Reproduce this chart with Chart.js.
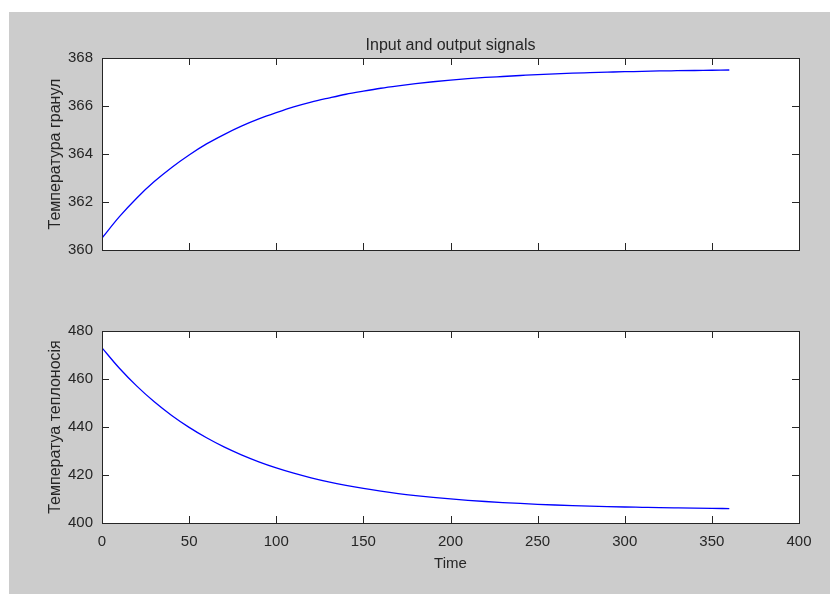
<!DOCTYPE html>
<html>
<head>
<meta charset="utf-8">
<script src="https://cdn.jsdelivr.net/npm/chart.js@4.4.1/dist/chart.umd.min.js"></script>
<style>
    html, body { margin: 0; padding: 0; background: #ffffff; }
    #page { position: relative; width: 830px; height: 594px; overflow: hidden; }
    #figure { position: absolute; left: 9px; top: 12px; width: 821px; height: 582px; background: #cccccc; }
    canvas { position: absolute; left: 0; }
    #topWrap { position: absolute; left: 0; top: 0; width: 830px; height: 290px; }
    #bottomWrap { position: absolute; left: 0; top: 290px; width: 830px; height: 304px; }
</style>
</head>
<body>
<div id="page">
    <div id="figure"></div>
    <div id="topWrap"><canvas id="topChart"></canvas></div>
    <div id="bottomWrap"><canvas id="bottomChart"></canvas></div>
</div>
<script>
// Data
const timeSteps = [0, 10, 20, 30, 40, 50, 60, 70, 80, 90, 100, 110, 120, 130, 140, 150, 160, 170, 180,
    190, 200, 210, 220, 230, 240, 250, 260, 270, 280, 290, 300, 310, 320, 330, 340, 350, 360];

// Температура гранул
const granuleTemp = [360.50, 361.39, 362.17, 362.85, 363.44, 363.96, 364.42, 364.81, 365.16, 365.46,
    365.72, 365.96, 366.16, 366.33, 366.49, 366.62, 366.74, 366.84, 366.93, 367.01,
    367.08, 367.14, 367.19, 367.23, 367.27, 367.31, 367.34, 367.37, 367.39, 367.41,
    367.43, 367.44, 367.46, 367.47, 367.48, 367.49, 367.50];

// Температура теплоносія
const carrierTemp = [473.00, 464.47, 457.02, 450.50, 444.81, 439.84, 435.50, 431.71, 428.40, 425.51,
    422.98, 420.77, 418.84, 417.15, 415.68, 414.39, 413.27, 412.28, 411.43, 410.68,
    410.02, 409.46, 408.96, 408.52, 408.14, 407.80, 407.51, 407.26, 407.03, 406.84,
    406.67, 406.53, 406.39, 406.28, 406.18, 406.09, 406.02];

const xTicks = [0, 50, 100, 150, 200, 250, 300, 350, 400];
const topYTicks = [360, 362, 364, 366, 368];
const bottomYTicks = [400, 420, 440, 460, 480];

const FONT = "'Liberation Sans', Arial, sans-serif";
const TEXT_COLOR = '#262626';
const TICK_LEN = 7;

Chart.defaults.font.family = FONT;
Chart.defaults.color = TEXT_COLOR;

// White axes background, box outline and inward ticks on all four sides (MATLAB look)
const matlabBox = {
    id: 'matlabBox',
    beforeDraw(chart) {
        const a = chart.chartArea;
        const ctx = chart.ctx;
        ctx.save();
        ctx.fillStyle = '#ffffff';
        ctx.fillRect(a.left, a.top, a.right - a.left, a.bottom - a.top);
        ctx.restore();
    },
    afterDraw(chart, args, opts) {
        const a = chart.chartArea;
        const ctx = chart.ctx;
        const xs = chart.scales.x;
        const ys = chart.scales.y;
        ctx.save();
        ctx.strokeStyle = TEXT_COLOR;
        ctx.lineWidth = 1;
        ctx.beginPath();
        xs.ticks.forEach(t => {
            const px = Math.round(xs.getPixelForValue(t.value)) + 0.5;
            ctx.moveTo(px, a.bottom);
            ctx.lineTo(px, a.bottom - TICK_LEN);
            ctx.moveTo(px, a.top);
            ctx.lineTo(px, a.top + TICK_LEN);
        });
        ys.ticks.forEach(t => {
            const py = Math.round(ys.getPixelForValue(t.value)) + 0.5;
            ctx.moveTo(a.left, py);
            ctx.lineTo(a.left + TICK_LEN, py);
            ctx.moveTo(a.right, py);
            ctx.lineTo(a.right - TICK_LEN, py);
        });
        ctx.stroke();
        ctx.strokeRect(Math.round(a.left) + 0.5, Math.round(a.top) + 0.5,
            Math.round(a.right - a.left), Math.round(a.bottom - a.top));
        if (opts.title) {
            ctx.fillStyle = TEXT_COLOR;
            ctx.font = '16px ' + FONT;
            ctx.textAlign = 'center';
            ctx.textBaseline = 'alphabetic';
            ctx.fillText(opts.title, (a.left + a.right) / 2, a.top - 8);
        }
        ctx.restore();
    }
};

function makeChart(canvasId, values, yTicks, yLabel, opts) {
    return new Chart(document.getElementById(canvasId), {
        type: 'line',
        data: {
            datasets: [{
                data: timeSteps.map((t, i) => ({ x: t, y: values[i] })),
                borderColor: '#0000ff',
                borderWidth: 1.3,
                pointRadius: 0,
                cubicInterpolationMode: 'monotone',
                fill: false
            }]
        },
        options: {
            responsive: true,
            maintainAspectRatio: false,
            animation: false,
            events: [],
            layout: { padding: { top: opts.padTop, right: 31, left: 0, bottom: 0 } },
            plugins: {
                legend: { display: false },
                tooltip: { enabled: false },
                matlabBox: { title: opts.title }
            },
            scales: {
                x: {
                    type: 'linear',
                    min: 0,
                    max: 400,
                    grid: { display: false, drawTicks: false },
                    border: { display: false },
                    afterBuildTicks: s => { s.ticks = xTicks.map(v => ({ value: v })); },
                    ticks: {
                        display: opts.showX,
                        padding: 10,
                        maxRotation: 0,
                        font: { size: 15 },
                        color: TEXT_COLOR
                    },
                    title: {
                        display: opts.showX,
                        text: 'Time',
                        font: { size: 15 },
                        color: TEXT_COLOR,
                        padding: { top: 0, bottom: 21 }
                    },
                    afterFit: s => { s.height = opts.xHeight; }
                },
                y: {
                    type: 'linear',
                    min: yTicks[0],
                    max: yTicks[yTicks.length - 1],
                    grid: { display: false, drawTicks: false },
                    border: { display: false },
                    afterBuildTicks: s => { s.ticks = yTicks.map(v => ({ value: v })); },
                    ticks: {
                        padding: 9,
                        font: { size: 15 },
                        color: TEXT_COLOR
                    },
                    title: {
                        display: true,
                        text: yLabel,
                        font: { size: 16 },
                        color: TEXT_COLOR,
                        padding: { top: 46, bottom: 0 }
                    },
                    afterFit: s => { s.width = 102; }
                }
            }
        },
        plugins: [matlabBox]
    });
}

makeChart('topChart', granuleTemp, topYTicks, 'Температура гранул',
    { padTop: 58, xHeight: 40, showX: false, title: 'Input and output signals' });

makeChart('bottomChart', carrierTemp, bottomYTicks, 'Температуа теплоносія',
    { padTop: 41, xHeight: 71, showX: true, title: '' });
</script>
</body>
</html>
